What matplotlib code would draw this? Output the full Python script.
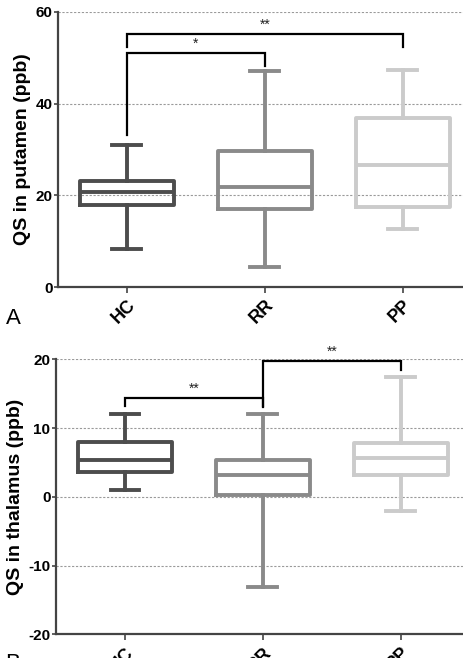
import matplotlib
matplotlib.use("Agg")
import matplotlib.pyplot as plt

plt.rcParams['font.family'] = ['Liberation Sans', 'DejaVu Sans']
plt.rcParams['axes.unicode_minus'] = False

categories = ["HC", "RR", "PP"]
colors = ["#4d4d4d", "#8a8a8a", "#cbcbcb"]

# Panel A: putamen (whislo, q1, med, q3, whishi)
put_whislo = [8.3, 4.4, 12.7]
put_q1 = [18.0, 17.0, 17.5]
put_med = [20.7, 21.9, 26.6]
put_q3 = [23.1, 29.7, 36.9]
put_whishi = [31.0, 47.1, 47.4]

# Panel B: thalamus
thal_whislo = [1.0, -13.1, -2.1]
thal_q1 = [3.6, 0.2, 3.2]
thal_med = [5.4, 3.1, 5.6]
thal_q3 = [8.0, 5.35, 7.8]
thal_whishi = [12.0, 12.0, 17.4]

# significance brackets: (i, j, top, left_end, right_end, label)
put_sig = [(0, 1, 51.1, 33.2, 48.3, "*"), (0, 2, 55.2, 52.4, 52.4, "**")]
thal_sig = [(0, 1, 14.4, 13.2, 13.2, "**"), (1, 2, 19.8, 13.0, 18.4, "**")]

fig = plt.figure(figsize=(4.64, 6.58), dpi=100)

def panel(rect, lo, q1, med, q3, hi, sig, ylim, yticks, ylabel, letter, letter_y):
    ax = fig.add_axes(rect)
    stats = []
    for k in range(3):
        stats.append(dict(whislo=lo[k], q1=q1[k], med=med[k], q3=q3[k], whishi=hi[k], fliers=[]))
    bp = ax.bxp(stats, positions=range(3), widths=0.68, capwidths=0.21, showfliers=False,
                patch_artist=False)
    for k in range(3):
        c = colors[k]
        bp['boxes'][k].set(color=c, linewidth=2.8, solid_joinstyle='round')
        bp['medians'][k].set(color=c, linewidth=2.8)
        for w in bp['whiskers'][2*k:2*k+2]:
            w.set(color=c, linewidth=2.8)
        for cp in bp['caps'][2*k:2*k+2]:
            cp.set(color=c, linewidth=2.8)
    for (i, j, top, le, re, lab) in sig:
        ax.plot([i, i, j, j], [le, top, top, re], color='black', lw=1.6, clip_on=False,
                solid_joinstyle='miter')
        ax.text((i + j) / 2, top + 0.4 * (ylim[1] - ylim[0]) / 60, lab, ha='center',
                va='bottom', fontsize=10, color='#222222')
    ax.set_xlim(-0.5, 2.5)
    ax.set_ylim(*ylim)
    ax.set_yticks(yticks)
    ax.yaxis.grid(True, color='#9a9a9a', linestyle=(0, (2, 1.5)), linewidth=0.8)
    ax.set_axisbelow(True)
    ax.set_xticks(range(3))
    ax.set_xticklabels(categories, rotation=45, ha='right', rotation_mode='anchor',
                       fontsize=13, fontweight='bold')
    for lbl in ax.get_yticklabels():
        lbl.set_fontweight('bold')
        lbl.set_fontsize(11)
    ax.spines['top'].set_visible(False)
    ax.spines['right'].set_visible(False)
    for s in ['left', 'bottom']:
        ax.spines[s].set_linewidth(1.6)
        ax.spines[s].set_color('#444444')
    ax.tick_params(axis='y', length=3, width=1.2, color='#444444', pad=1)
    ax.tick_params(axis='x', length=4, width=1.2, color='#444444', pad=3)
    ax.set_ylabel(ylabel, fontsize=14, fontweight='bold', labelpad=3)
    fig.text(0.012, letter_y, letter, fontsize=16, ha='left', va='center')
    return ax

panel([0.125, 0.5638, 0.892, 0.418], put_whislo, put_q1, put_med, put_q3, put_whishi,
      put_sig, (0, 60), [0, 20, 40, 60], "QS in putamen (ppb)", "A", 1 - 318 / 658)
panel([0.1207, 0.036, 0.892, 0.418], thal_whislo, thal_q1, thal_med, thal_q3, thal_whishi,
      thal_sig, (-20, 20), [-20, -10, 0, 10, 20], "QS in thalamus (ppb)", "B", -0.008)

fig.savefig("out.png", dpi=100)
